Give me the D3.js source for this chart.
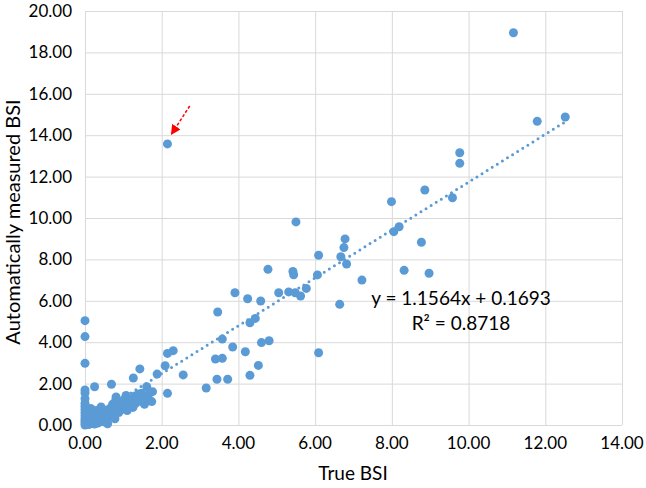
<!DOCTYPE html>
<html>
<head>
<meta charset="utf-8">
<script src="https://cdn.jsdelivr.net/npm/d3@7"></script>
<style>
body { margin: 0; background: #fff; }
text { font-family: Lato, "Open Sans", sans-serif; fill: #000; }
</style>
</head>
<body>
<svg></svg>
<script>
var width = 646;
var height = 488;

// tick values for both axes
var xTicks = [0, 2, 4, 6, 8, 10, 12, 14];
var yTicks = [0, 2, 4, 6, 8, 10, 12, 14, 16, 18, 20];

// true BSI, automatically measured BSI
var trueBSI = [
	11.17, 11.79, 12.52, 9.77, 9.77, 8.86, 7.99, 9.58, 8.05, 8.19, 8.77, 8.32, 8.97,
	5.50, 6.78, 6.75, 6.09, 6.67, 6.82, 4.77, 5.42, 5.44, 6.06, 7.22, 5.77, 5.05, 5.31,
	5.48, 5.62, 3.91, 4.24, 4.58, 6.64, 3.46, 4.44, 4.30, 3.58, 4.80, 4.60, 3.85, 4.18,
	3.40, 3.58, 6.09, 4.52, 2.56, 4.30, 3.44, 3.72, 3.16, 2.15,
	0, 0, 0, 0, 0, 0.25, 0.69, 1.43, 1.26, 1.88, 2.15, 2.30, 2.09, 2.15, 1.61, 1.76,
	1.74, 1.48, 1.52,
	0, 0, 0, 0, 0, 0, 0, 0, 0, 0, 0.02, 0.05, 0.05, 0.08, 0.10, 0.12, 0.15, 0.18, 0.20,
	0.22, 0.25, 0.28, 0.30, 0.32, 0.35, 0.40, 0.42, 0.45, 0.50, 0.52, 0.55, 0.59, 0.60,
	0.62, 0.65, 0.70, 0.72, 0.75, 0.78, 0.80, 0.81, 0.85, 0.88, 0.90, 0.95, 1.00, 1.02,
	1.07, 1.10, 1.15, 1.18, 1.20, 1.25, 1.30, 1.32, 1.38, 1.40, 1.45, 1.55, 1.60, 1.65
];
var measuredBSI = [
	18.95, 14.67, 14.88, 13.15, 12.64, 11.35, 10.79, 10.98, 9.34, 9.58, 8.83, 7.47, 7.33,
	9.81, 8.99, 8.57, 8.20, 8.13, 7.78, 7.52, 7.42, 7.26, 7.25, 7.00, 6.60, 6.39, 6.43,
	6.39, 6.23, 6.39, 6.10, 5.99, 5.83, 5.46, 5.15, 4.94, 4.15, 4.07, 3.98, 3.77, 3.54,
	3.19, 3.22, 3.49, 2.88, 2.42, 2.40, 2.21, 2.21, 1.79, 13.58,
	5.04, 4.27, 2.98, 1.69, 1.55, 1.85, 1.97, 2.71, 2.27, 2.46, 3.46, 3.59, 2.86, 1.53, 1.85, 1.61,
	1.13, 1.53, 1.37,
	0.00, 0.10, 0.20, 0.30, 0.45, 0.60, 0.75, 0.90, 1.05, 1.27, 0.05, 0.15, 0.40, 0.60, 0.02, 0.25, 0.80, 0.10, 0.35,
	0.55, 0.05, 0.20, 0.70, 0.40, 0.10, 0.30, 0.87, 0.55, 0.15, 0.40, 0.70, 0.06, 0.30,
	0.50, 0.80, 0.45, 1.00, 0.65, 0.30, 1.20, 1.35, 0.85, 0.60, 1.05, 0.75, 1.20, 0.90,
	1.43, 0.70, 0.95, 1.25, 1.10, 0.85, 1.40, 1.05, 1.25, 1.50, 1.15, 1.00, 1.25, 1.45
];

// linear trendline shown on the chart
var slope = 1.1564;
var intercept = 0.1693;
var equationLines = ['y = 1.1564x + 0.1693', 'R\u00b2 = 0.8718'];

// red arrow pointing at the outlier (data units: tail, tip)
var arrowX = [2.73, 2.24];
var arrowY = [15.41, 14.01];

var svg = d3.select('svg')
	.attr('width', width)
	.attr('height', height);

var x = d3.scaleLinear()
	.domain([0, 14])
	.range([85, 622]);

var y = d3.scaleLinear()
	.domain([0, 20])
	.range([425, 11]);

// gridlines
svg.append('g')
	.attr('transform', 'translate(0,425)')
	.call(d3.axisBottom(x).tickValues(xTicks).tickSize(-414).tickFormat(''))
	.call(function(g) {
		g.select('.domain').remove();
		g.selectAll('line').attr('stroke', '#d9d9d9');
	});

svg.append('g')
	.attr('transform', 'translate(85,0)')
	.call(d3.axisLeft(y).tickValues(yTicks).tickSize(-537).tickFormat(''))
	.call(function(g) {
		g.select('.domain').remove();
		g.selectAll('line').attr('stroke', '#d9d9d9');
	});

// tick labels
svg.append('g')
	.selectAll('text')
	.data(xTicks)
	.enter()
	.append('text')
	.attr('x', function(d) { return x(d); })
	.attr('y', 449)
	.attr('text-anchor', 'middle')
	.style('font-size', '17px')
	.text(function(d) { return d3.format('.2f')(d); });

svg.append('g')
	.selectAll('text')
	.data(yTicks)
	.enter()
	.append('text')
	.attr('x', 72)
	.attr('y', function(d) { return y(d); })
	.attr('dy', '0.35em')
	.attr('text-anchor', 'end')
	.style('font-size', '17px')
	.text(function(d) { return d3.format('.2f')(d); });

// axis titles
svg.append('text')
	.attr('x', 353)
	.attr('y', 480)
	.attr('text-anchor', 'middle')
	.style('font-size', '19px')
	.text('True BSI');

svg.append('text')
	.attr('transform', 'translate(20,222) rotate(-90)')
	.attr('text-anchor', 'middle')
	.style('font-size', '20px')
	.text('Automatically measured BSI');

// points
var points = trueBSI.map(function(d, i) { return [d, measuredBSI[i]]; });

svg.append('g')
	.selectAll('circle')
	.data(points)
	.enter()
	.append('circle')
	.attr('cx', function(d) { return x(d[0]); })
	.attr('cy', function(d) { return y(d[1]); })
	.attr('r', 4.5)
	.attr('fill', '#5b9bd5');

// trendline
var xMin = d3.min(trueBSI);
var xMax = d3.max(trueBSI);
var line = d3.line()
	.x(function(d) { return x(d); })
	.y(function(d) { return y(slope * d + intercept); });

svg.append('path')
	.attr('d', line([xMin, xMax]))
	.attr('stroke', '#5b9bd5')
	.attr('stroke-width', 3)
	.attr('stroke-linecap', 'round')
	.attr('stroke-dasharray', '0 6')
	.attr('fill', 'none');

// equation
svg.append('g')
	.selectAll('text')
	.data(equationLines)
	.enter()
	.append('text')
	.attr('x', 461)
	.attr('y', function(d, i) { return 305 + i * 25; })
	.attr('text-anchor', 'middle')
	.style('font-size', '19px')
	.text(function(d) { return d; });

// arrow
svg.append('defs')
	.append('marker')
	.attr('id', 'head')
	.attr('viewBox', '0 0 10 10')
	.attr('refX', 10)
	.attr('refY', 5)
	.attr('markerWidth', 10)
	.attr('markerHeight', 10)
	.attr('markerUnits', 'userSpaceOnUse')
	.attr('orient', 'auto')
	.append('path')
	.attr('d', 'M0,0L10,5L0,10Z')
	.attr('fill', '#ff0000');

svg.append('line')
	.attr('x1', x(arrowX[0]))
	.attr('y1', y(arrowY[0]))
	.attr('x2', x(arrowX[1]))
	.attr('y2', y(arrowY[1]))
	.attr('stroke', '#ff0000')
	.attr('stroke-width', 1.5)
	.attr('stroke-dasharray', '3 2')
	.attr('marker-end', 'url(#head)');
</script>
</body>
</html>
